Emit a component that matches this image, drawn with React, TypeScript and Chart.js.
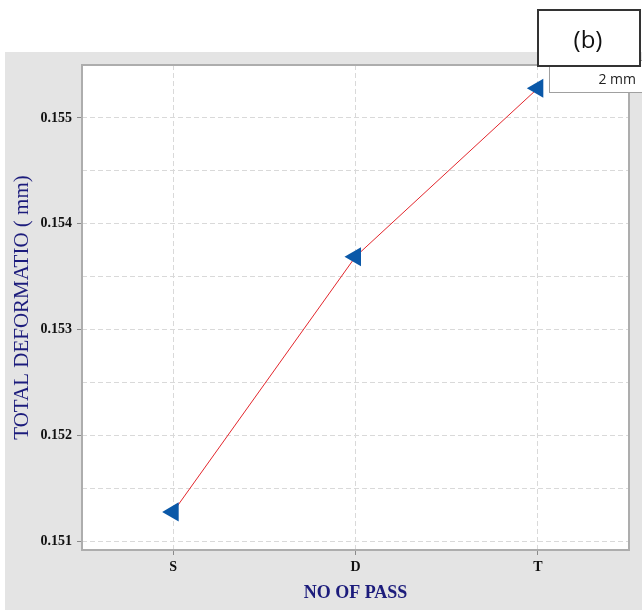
import { useEffect, useRef } from 'react';
import { Chart, registerables } from 'chart.js';

Chart.register(...registerables);

// Number of passes on the x axis and the measured total deformation (mm)
const passes = ['S', 'D', 'T'];
const deformation = [0.15128, 0.15369, 0.15528];

// Y axis: grid every 0.0005, labels on whole thousandths
const yMin = 0.15092;
const yMax = 0.1555;
const yGridValues = [0.151, 0.1515, 0.152, 0.1525, 0.153, 0.1535, 0.154, 0.1545, 0.155, 0.1555];

const seriesLabel = '2 mm';
const panelLabel = '(b)';
const xTitle = 'NO OF PASS';
const yTitle = 'TOTAL DEFORMATIO ( mm)';

const titleColor = '#1c1c7c';
const gridColor = '#d9d9d9';

const isWholeThousandth = (v: number) => Math.abs(v * 1000 - Math.round(v * 1000)) < 1e-6;

const panelPlugin = {
  id: 'panelDecor',
  beforeDraw(chart: any) {
    const { ctx, width, height, chartArea: a } = chart;
    ctx.save();
    ctx.fillStyle = '#ffffff';
    ctx.fillRect(0, 0, width, height);
    ctx.fillStyle = '#e4e4e4';
    ctx.fillRect(5, 52, width - 5, height - 52);
    ctx.fillStyle = '#ffffff';
    ctx.fillRect(a.left, a.top, a.right - a.left, a.bottom - a.top);
    ctx.restore();
  },
  beforeDatasetsDraw(chart: any) {
    const { ctx, chartArea: a } = chart;
    ctx.save();
    ctx.strokeStyle = '#adadad';
    ctx.lineWidth = 2;
    ctx.strokeRect(a.left, a.top, a.right - a.left, a.bottom - a.top);
    ctx.restore();
  },
  afterDraw(chart: any) {
    const { ctx } = chart;
    ctx.save();
    // series key box
    ctx.fillStyle = '#ffffff';
    ctx.fillRect(549, 60, 100, 32);
    ctx.strokeStyle = '#a0a0a0';
    ctx.lineWidth = 1;
    ctx.strokeRect(549.5, 60.5, 100, 32);
    ctx.fillStyle = '#222222';
    ctx.font = '14px "Open Sans"';
    ctx.textAlign = 'right';
    ctx.textBaseline = 'middle';
    ctx.fillText(seriesLabel, 636, 80);
    // panel tag
    ctx.fillStyle = '#ffffff';
    ctx.fillRect(538, 10, 102, 56);
    ctx.strokeStyle = '#333333';
    ctx.lineWidth = 2;
    ctx.strokeRect(538, 10, 102, 56);
    ctx.fillStyle = '#111111';
    ctx.font = '24px "Open Sans"';
    ctx.textAlign = 'center';
    ctx.textBaseline = 'middle';
    ctx.fillText(panelLabel, 588, 41);
    ctx.restore();
  },
};

export default function App() {
  const canvasRef = useRef<HTMLCanvasElement | null>(null);

  useEffect(() => {
    const canvas = canvasRef.current;
    if (!canvas) return;
    const chart = new Chart(canvas, {
      type: 'line',
      data: {
        labels: passes,
        datasets: [
          {
            label: seriesLabel,
            data: deformation,
            borderColor: '#e3262c',
            borderWidth: 1,
            pointStyle: 'triangle',
            pointRotation: -90,
            pointRadius: 11,
            pointBackgroundColor: '#0a58a8',
            pointBorderColor: '#0a58a8',
            pointBorderWidth: 0,
            tension: 0,
            clip: false,
          },
        ],
      },
      options: {
        responsive: false,
        animation: false,
        layout: { padding: { left: 0, right: 13, top: 65, bottom: 0 } },
        plugins: {
          legend: { display: false },
          tooltip: { enabled: false },
        },
        scales: {
          x: {
            type: 'category',
            offset: true,
            afterFit: (scale: any) => {
              scale.height = 60;
            },
            grid: {
              offset: false,
              color: gridColor,
              lineWidth: 1,
              drawTicks: true,
              tickLength: 5,
              tickColor: '#8a8a8a',
              tickWidth: 1,
            },
            border: { display: false, dash: [5, 3] },
            ticks: {
              color: '#111111',
              padding: 4,
              font: { family: '"Liberation Serif"', size: 14, weight: 'bold' },
            },
            title: {
              display: true,
              text: xTitle,
              color: titleColor,
              font: { family: '"Liberation Serif"', size: 18, weight: 'bold' },
              padding: { top: 0, bottom: 6 },
            },
          },
          y: {
            type: 'linear',
            min: yMin,
            max: yMax,
            afterFit: (scale: any) => {
              scale.width = 82;
            },
            afterBuildTicks: (scale: any) => {
              scale.ticks = yGridValues.map((value) => ({ value }));
            },
            grid: {
              color: gridColor,
              lineWidth: 1,
              drawTicks: true,
              tickLength: 5,
              tickWidth: 1,
              tickColor: (ctx: any) =>
                ctx.tick && isWholeThousandth(ctx.tick.value) ? '#8a8a8a' : 'rgba(0,0,0,0)',
            },
            border: { display: false, dash: [5, 3] },
            ticks: {
              autoSkip: false,
              color: '#111111',
              padding: 5,
              font: { family: '"Liberation Serif"', size: 14, weight: 'bold' },
              callback: (value: any) =>
                isWholeThousandth(Number(value)) ? Number(value).toFixed(3) : '',
            },
            title: {
              display: true,
              text: yTitle,
              color: titleColor,
              font: { family: '"Liberation Serif"', size: 21, weight: 'normal' },
              padding: { top: 10, bottom: 0 },
            },
          },
        },
      },
      plugins: [panelPlugin],
    });
    return () => chart.destroy();
  }, []);

  return (
    <div style={{ position: 'fixed', left: 0, top: 0, width: 642, height: 610 }}>
      <canvas ref={canvasRef} width={642} height={610} style={{ display: 'block' }} />
    </div>
  );
}
